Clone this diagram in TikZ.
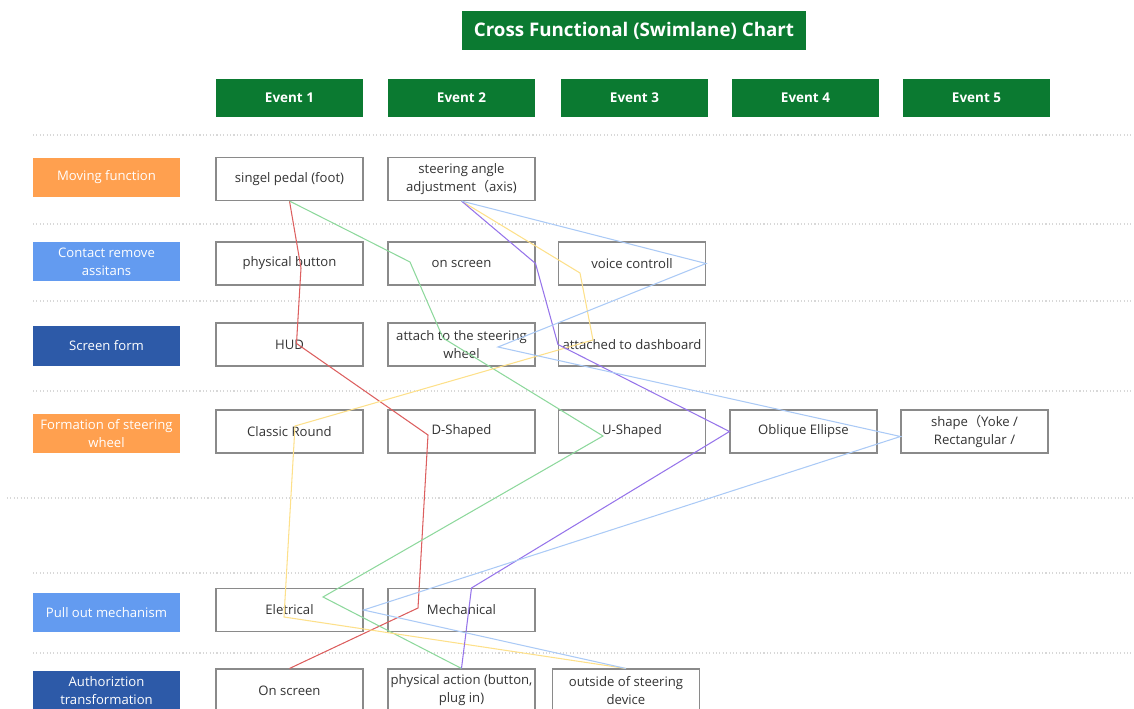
\documentclass[tikz,border=0pt]{standalone}
\usepackage{fontspec}
\setmainfont{Open Sans}
\newfontfamily\cjk{Noto Sans CJK SC}
\usepackage{tikz}
\usetikzlibrary{calc}

\definecolor{chartgreen}{HTML}{0B7A31}
\definecolor{laneorange}{HTML}{FFA04F}
\definecolor{lanelight}{HTML}{639BF0}
\definecolor{lanedark}{HTML}{2D5AA8}
\definecolor{boxgray}{HTML}{8A8A8A}
\definecolor{boxtext}{HTML}{333333}
\definecolor{sepgray}{HTML}{D8D8D8}
\definecolor{linered}{HTML}{DC5F5F}
\definecolor{linegreen}{HTML}{8DD89C}
\definecolor{lineyellow}{HTML}{FDE08A}
\definecolor{linepurple}{HTML}{9674EA}
\definecolor{lineblue}{HTML}{ABCAF6}

\tikzset{
  titlebox/.style={fill=chartgreen, text=white, minimum width=10.32cm, minimum height=1.17cm,
    font=\bfseries\fontsize{16}{19}\selectfont},
  eventbox/.style={fill=chartgreen, text=white, minimum width=4.41cm, minimum height=1.14cm,
    font=\bfseries\fontsize{11.5}{14}\selectfont},
  lane/.style={text=white, minimum width=4.41cm, minimum height=1.17cm, align=center,
    font=\fontsize{11.2}{15.4}\selectfont},
  choice/.style={draw=boxgray, line width=0.9pt, fill=white, text=boxtext, minimum width=4.41cm,
    minimum height=1.29cm, align=center, inner sep=1pt, font=\fontsize{11.2}{15.4}\selectfont},
  sep/.style={sepgray, dotted, line width=0.9pt},
  link/.style={line width=0.9pt}
}

\begin{document}
\begin{tikzpicture}[x=0.03cm, y=-0.03cm]
\useasboundingbox (0,0) rectangle (1134,709);
\clip (0,0) rectangle (1134,709);

% heading and events
\node[titlebox] (title) at (634,30.5) {Cross Functional (Swimlane) Chart};
\node[eventbox] (ev1) at (289.5,98) {Event 1};
\node[eventbox] (ev2) at (461.5,98) {Event 2};
\node[eventbox] (ev3) at (634.5,98) {Event 3};
\node[eventbox] (ev4) at (805.5,98) {Event 4};
\node[eventbox] (ev5) at (976.5,98) {Event 5};

% lane separators
\draw[sep] (33,135) -- (1134,135);
\draw[sep] (33,224) -- (1134,224);
\draw[sep] (33,301) -- (1134,301);
\draw[sep] (33,391) -- (1134,391);
\draw[sep] (7,498) -- (1134,498);
\draw[sep] (33,573) -- (1134,573);
\draw[sep] (33,653) -- (1134,653);

% lanes
\node[lane, fill=laneorange] (moving) at (106.5,177.5) {Moving function};
\node[lane, fill=lanelight] (contact) at (106.5,262) {Contact remove\\assitans};
\node[lane, fill=lanedark] (screen) at (106.5,346) {Screen form};
\node[lane, fill=laneorange] (formation) at (106.5,433.5) {Formation of steering\\wheel};
\node[lane, fill=lanelight] (pullout) at (106.5,612.5) {Pull out mechanism};
\node[lane, fill=lanedark] (authorize) at (106.5,690.5) {Authoriztion\\transformation};

% choices
\node[choice] (pedal) at (289.5,179) {singel pedal (foot)};
\node[choice] (angle) at (461.5,179) {steering angle\\adjustment{\cjk （}axis)};

\node[choice] (button) at (289.5,263.5) {physical button};
\node[choice] (onscr) at (461.5,263.5) {on screen};
\node[choice] (voice) at (632,263.5) {voice controll};

\node[choice] (hud) at (289.5,344.5) {HUD};
\node[choice] (attach) at (461.5,344.5) {attach to the steering\\wheel};
\node[choice] (dash) at (632,344.5) {attached to dashboard};

\node[choice] (classic) at (289.5,431.5) {Classic Round};
\node[choice] (dshape) at (461.5,431.5) {D-Shaped};
\node[choice] (ushape) at (632,431.5) {U-Shaped};
\node[choice] (oblique) at (803.5,431.5) {Oblique Ellipse};
\node[choice] (yoke) at (974.5,431.5) {shape{\cjk （}Yoke /\\Rectangular /};

\node[choice] (elec) at (289.5,610) {Eletrical};
\node[choice] (mech) at (461.5,610) {Mechanical};

\node[choice] (authscr) at (289.5,690.5) {On screen};
\node[choice] (phys) at (461.5,690.5) {physical action (button,\\plug in)};
\node[choice] (outside) at (626,690.5) {outside of steering\\device};

% combinations
\draw[link, linered] (pedal.south) -- ($(button)+(11.5,4.5)$) -- ($(hud)+(7,-1)$)
  -- ($(dshape)+(-33.5,3.5)$) -- ($(mech)+(-43.5,-2)$) -- (authscr.north);
\draw[link, linegreen] (pedal.south) -- ($(onscr)+(-51.5,-1.5)$) -- ($(attach)+(-18.5,-6.5)$)
  -- ($(ushape)+(-29,4.5)$) -- ($(elec)+(33.5,-13)$) -- (phys.north);
\draw[link, lineyellow] (angle.south) -- ($(voice)+(-52,9.5)$) -- ($(dash)+(-39,-4.5)$)
  -- ($(classic)+(5.5,-5.5)$) -- ($(elec)+(-5.5,7)$) -- (outside.north);
\draw[link, linepurple] (angle.south) -- (onscr.east) -- (dash.west)
  -- (oblique.west) -- ($(mech.north)+(10,0)$) -- (phys.north);
\draw[link, lineblue] (angle.south) -- (voice.east) -- ($(attach)+(36.5,2.5)$)
  -- ($(yoke.west)+(0,5)$) -- (elec.east) -- (outside.north);
\end{tikzpicture}
\end{document}
